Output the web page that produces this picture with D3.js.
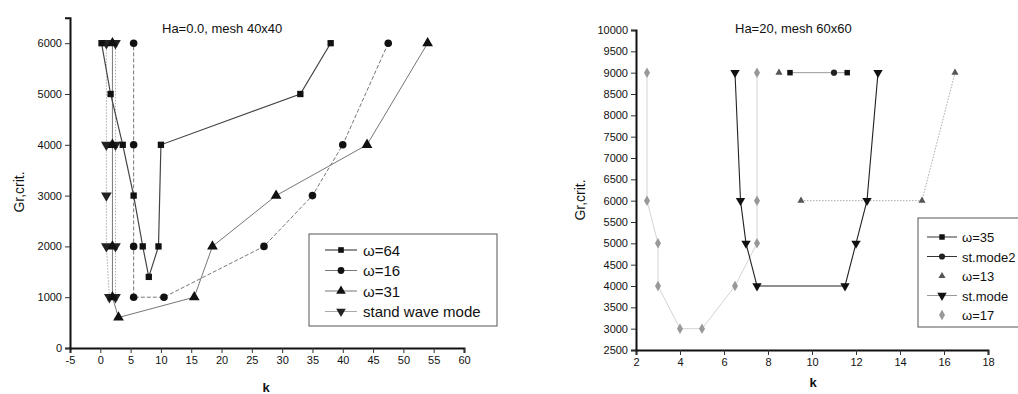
<!DOCTYPE html>
<html><head><meta charset="utf-8">
<script src="https://cdn.jsdelivr.net/npm/d3@7"></script>
<style>
body{margin:0;background:#fff}
svg{display:block}
text{font-family:"Liberation Sans",Arial,sans-serif;fill:#111}
</style>
</head><body>
<svg id="c" width="1018" height="394"></svg>
<script>
// ---------- DATA: left panel (Ha=0.0, mesh 40x40) ----------
const leftXTicks = [-5,0,5,10,15,20,25,30,35,40,45,50,55,60];
const leftYTicks = [0,1000,2000,3000,4000,5000,6000];
const omega64 = [[38,6000],[33,5000],[10,4000],[9.6,2000],[8,1400],[7,2000],[5.5,3000],[3.7,4000],[1.7,5000],[0.2,6000]];
const omega16 = [[47.5,6000],[40,4000],[35,3000],[27,2000],[10.5,1000],[5.5,1000],[5.5,2000],[5.5,4000],[5.5,6000]];
const omega31 = [[54,6000],[44,4000],[29,3000],[18.5,2000],[15.5,1000],[3,600],[2,1000],[2,2000],[2,4000],[2,6000]];
const standWave = [[1,6000],[1,4000],[1,3000],[1,2000],[1.5,1000],[2.5,1000],[2.5,2000],[2.5,4000],[2.5,6000]];
const leftLabels = ["ω=64","ω=16","ω=31","stand wave mode"];

// ---------- DATA: right panel (Ha=20, mesh 60x60) ----------
const rightXTicks = [2,4,6,8,10,12,14,16,18];
const rightYTicks = [2500,3000,3500,4000,4500,5000,5500,6000,6500,7000,7500,8000,8500,9000,9500,10000];
const omega35 = [[9,9000],[11.6,9000]];
const stMode2 = [[11,9000]];
const omega13 = [[8.5,9000],[9.5,6000],[15,6000],[16.5,9000]];
const stMode = [[6.5,9000],[6.75,6000],[7,5000],[7.5,4000],[11.5,4000],[12,5000],[12.5,6000],[13,9000]];
const omega17 = [[2.5,9000],[2.5,6000],[3,5000],[3,4000],[4,3000],[5,3000],[6.5,4000],[7.5,5000],[7.5,6000],[7.5,9000]];
const rightLabels = ["ω=35","st.mode2","ω=13","st.mode","ω=17"];

const svg = d3.select("#c");
const fmt = d => String(d);

function drawAxes(g, x, y, xt, yt, xMinor, yMinor) {
  const [x0] = x.range(); const [y0] = y.range();
  const gx = g.append("g").attr("transform", `translate(0,${y0})`);
  gx.call(d3.axisBottom(x).tickValues(xMinor).tickSize(3).tickFormat(""));
  gx.call(d3.axisBottom(x).tickValues(xt).tickSize(5).tickPadding(3).tickFormat(fmt));
  const gy = g.append("g").attr("transform", `translate(${x0},0)`);
  gy.call(d3.axisLeft(y).tickValues(yMinor).tickSize(3).tickFormat(""));
  gy.call(d3.axisLeft(y).tickValues(yt).tickSize(5).tickPadding(3).tickFormat(fmt));
  [gx, gy].forEach(a => {
    a.selectAll(".domain").attr("stroke", "#111").attr("stroke-width", 2);
    a.selectAll(".tick line").attr("stroke", "#333");
    a.selectAll(".tick text").attr("font-size", 11).attr("fill", "#111")
      .attr("font-family", '"Liberation Sans",Arial,sans-serif');
  });
}

function series(g, x, y, data, lineStyle, sym, symSize, symFill, lineData) {
  const line = d3.line().x(d => x(d[0])).y(d => y(d[1]));
  if (lineStyle) {
    g.append("path").datum(lineData || data).attr("d", line).attr("fill", "none")
      .attr("stroke", lineStyle.stroke).attr("stroke-width", lineStyle.width || 1)
      .attr("stroke-dasharray", lineStyle.dash || null);
  }
  g.selectAll(null).data(data).enter().append("path")
    .attr("transform", d => `translate(${x(d[0])},${y(d[1])})` + (sym.flip ? " rotate(180)" : ""))
    .attr("d", d3.symbol().type(sym.type).size(symSize))
    .attr("fill", symFill);
}

// ---------- LEFT PANEL ----------
const xL = d3.scaleLinear().domain([-5, 60]).range([70, 464]);
const yL = d3.scaleLinear().domain([0, 6500]).range([348, 17.8]);
const gL = svg.append("g");
drawAxes(gL, xL, yL, leftXTicks, leftYTicks, d3.range(-5, 60.1, 2.5), d3.range(0, 6500.1, 500));

const stylesL = [
  {line:{stroke:"#444",width:1.2}, sym:{type:d3.symbolSquare}, size:40, fill:"#111"},
  {line:{stroke:"#777",width:1,dash:"4,2"}, sym:{type:d3.symbolCircle}, size:45, fill:"#111"},
  {line:{stroke:"#777",width:1}, sym:{type:d3.symbolTriangle}, size:50, fill:"#111"},
  {line:{stroke:"#aaa",width:1,dash:"1.5,1.5"}, sym:{type:d3.symbolTriangle,flip:true}, size:50, fill:"#222"}
];
[standWave, omega31, omega16, omega64].forEach((s, i) => {
  const st = stylesL[3 - i];
  series(gL, xL, yL, s, st.line, st.sym, st.size, st.fill);
});

gL.append("text").attr("x", 162).attr("y", 33).attr("font-size", 13).text("Ha=0.0, mesh 40x40");
gL.append("text").attr("x", 266).attr("y", 392).attr("font-size", 13).attr("text-anchor", "middle").attr("font-weight", "bold").text("k");
gL.append("text").attr("transform", "translate(24,192) rotate(-90)").attr("font-size", 14).attr("text-anchor", "middle").text("Gr,crit.");

// legend left
const lgL = gL.append("g");
lgL.append("rect").attr("x", 309).attr("y", 234).attr("width", 188).attr("height", 92)
  .attr("fill", "#fff").attr("stroke", "#555").attr("stroke-width", 1);
leftLabels.forEach((lab, i) => {
  const st = stylesL[i];
  const yy = 250 + i * 20.5;
  lgL.append("line").attr("x1", 325).attr("x2", 357).attr("y1", yy).attr("y2", yy)
    .attr("stroke", i === 0 ? "#222" : st.line.stroke).attr("stroke-width", 1);
  lgL.append("path").attr("transform", `translate(341,${yy})` + (st.sym.flip ? " rotate(180)" : ""))
    .attr("d", d3.symbol().type(st.sym.type).size(st.size * 0.8)).attr("fill", st.fill);
  lgL.append("text").attr("x", 363).attr("y", yy + 5.5).attr("font-size", 15).text(lab);
});

// ---------- RIGHT PANEL ----------
const xR = d3.scaleLinear().domain([2, 18]).range([636, 988]);
const yR = d3.scaleLinear().domain([2500, 10000]).range([350, 30]);
const gR = svg.append("g");
drawAxes(gR, xR, yR, rightXTicks, rightYTicks, d3.range(2, 18.01, 0.5), d3.range(2500, 10000.1, 250));

const stylesR = [
  {line:{stroke:"#333",width:1}, sym:{type:d3.symbolSquare}, size:30, fill:"#111"},
  {line:{stroke:"#666",width:1}, sym:{type:d3.symbolCircle}, size:30, fill:"#222"},
  {line:{stroke:"#aaa",width:1,dash:"1.5,1.5"}, sym:{type:d3.symbolTriangle}, size:22, fill:"#555"},
  {line:{stroke:"#222",width:1.1}, sym:{type:d3.symbolTriangle,flip:true}, size:38, fill:"#111"},
  {line:{stroke:"#d4d4d4",width:1}, sym:{type:d3.symbolDiamond}, size:32, fill:"#999"}
];
series(gR, xR, yR, omega17, stylesR[4].line, stylesR[4].sym, stylesR[4].size, stylesR[4].fill);
series(gR, xR, yR, omega13, stylesR[2].line, stylesR[2].sym, stylesR[2].size, stylesR[2].fill, omega13.slice(1));
series(gR, xR, yR, stMode, stylesR[3].line, stylesR[3].sym, stylesR[3].size, stylesR[3].fill);
series(gR, xR, yR, omega35, {stroke:"#999",width:1}, stylesR[0].sym, stylesR[0].size, stylesR[0].fill);
series(gR, xR, yR, stMode2, null, stylesR[1].sym, stylesR[1].size, stylesR[1].fill);

gR.append("text").attr("x", 735).attr("y", 33).attr("font-size", 13).text("Ha=20, mesh 60x60");
gR.append("text").attr("x", 813).attr("y", 387).attr("font-size", 13).attr("text-anchor", "middle").attr("font-weight", "bold").text("k");
gR.append("text").attr("transform", "translate(585,200) rotate(-90)").attr("font-size", 14).attr("text-anchor", "middle").text("Gr,crit.");

const lgR = gR.append("g");
lgR.append("rect").attr("x", 918).attr("y", 218).attr("width", 110).attr("height", 109)
  .attr("fill", "#fff").attr("stroke", "#555").attr("stroke-width", 1);
rightLabels.forEach((lab, i) => {
  const st = stylesR[i];
  const yy = 237 + i * 19.5;
  if (i !== 2 && i !== 4) {
    lgR.append("line").attr("x1", 927).attr("x2", 957).attr("y1", yy).attr("y2", yy)
      .attr("stroke", i === 3 ? "#999" : "#333").attr("stroke-width", 1);
  }
  lgR.append("path").attr("transform", `translate(942,${yy})` + (st.sym.flip ? " rotate(180)" : ""))
    .attr("d", d3.symbol().type(st.sym.type).size(st.size)).attr("fill", st.fill);
  lgR.append("text").attr("x", 962).attr("y", yy + 5).attr("font-size", 13).text(lab);
});
</script>
</body></html>
